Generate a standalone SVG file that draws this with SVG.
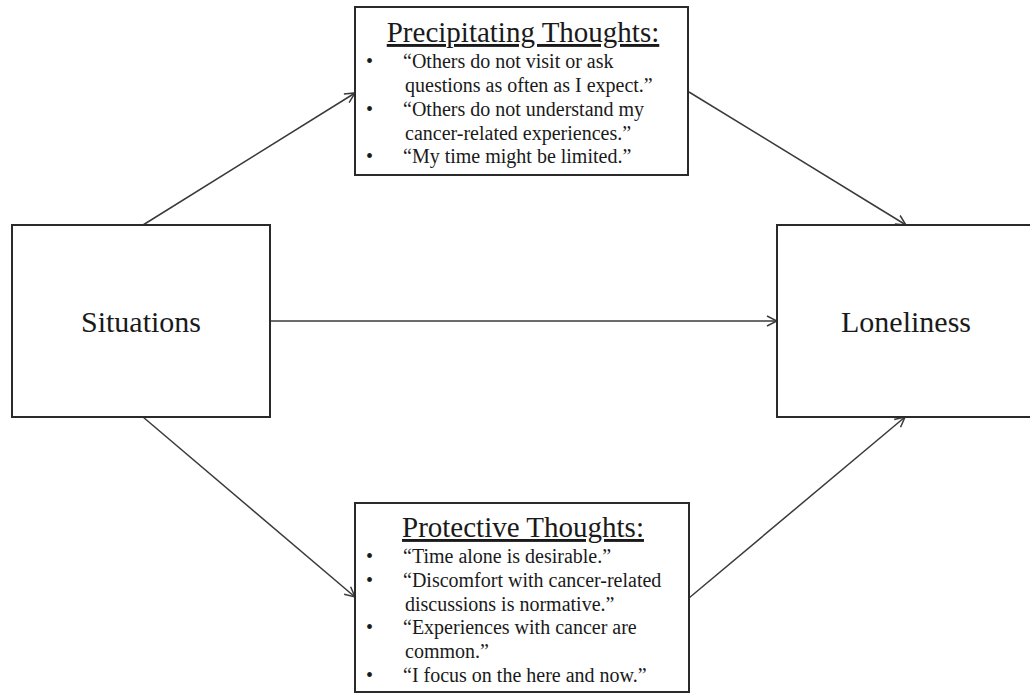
<svg xmlns="http://www.w3.org/2000/svg" width="1030" height="694" viewBox="0 0 1030 694">
<style>
.box{fill:#fff;stroke:#2a2a2a;stroke-width:2}
.big{font-family:"Liberation Serif",serif;font-size:30px;fill:#1a1a1a}
.title{font-family:"Liberation Serif",serif;font-size:29px;fill:#1a1a1a;text-decoration:underline}
.item{font-family:"Liberation Serif",serif;font-size:20px;fill:#1a1a1a}
.conn line{stroke:#3a3a3a;stroke-width:1.5;fill:none;marker-end:url(#arr)}
</style>
<defs>
<marker id="arr" viewBox="0 0 12 12" refX="11" refY="6" markerWidth="12" markerHeight="12" markerUnits="userSpaceOnUse" orient="auto">
<path d="M1,1 L11,6 L1,11" fill="none" stroke="#3a3a3a" stroke-width="1.5"/>
</marker>
</defs>
<rect width="1030" height="694" fill="#fff"/>
<g class="conn" id="connectors">
<line x1="143" y1="225" x2="355" y2="93"/>
<line x1="689" y1="92" x2="906" y2="225"/>
<line x1="270" y1="321" x2="777" y2="321"/>
<line x1="143" y1="417" x2="355" y2="597"/>
<line x1="689" y1="598" x2="905" y2="417"/>
</g>
<g id="situations">
<rect class="box" x="12" y="225" width="258" height="192"/>
<text class="big" x="141" y="332" text-anchor="middle">Situations</text>
</g>
<g id="loneliness">
<rect class="box" x="777" y="225" width="263" height="192"/>
<text class="big" x="906" y="332" text-anchor="middle">Loneliness</text>
</g>
<g id="precipitating">
<rect class="box" x="355" y="7" width="333" height="168"/>
<text class="title" x="523" y="42" text-anchor="middle">Precipitating Thoughts:</text>
<g class="item">
<text x="366" y="68">•</text><text x="403" y="68">“Others do not visit or ask</text>
<text x="405" y="92">questions as often as I expect.”</text>
<text x="366" y="116">•</text><text x="403" y="116">“Others do not understand my</text>
<text x="405" y="140">cancer-related experiences.”</text>
<text x="366" y="163">•</text><text x="403" y="163">“My time might be limited.”</text>
</g>
</g>
<g id="protective">
<rect class="box" x="355" y="503" width="334" height="189"/>
<text class="title" x="523" y="537" text-anchor="middle">Protective Thoughts:</text>
<g class="item">
<text x="366" y="563">•</text><text x="403" y="563">“Time alone is desirable.”</text>
<text x="366" y="587">•</text><text x="403" y="587">“Discomfort with cancer-related</text>
<text x="405" y="611">discussions is normative.”</text>
<text x="366" y="634">•</text><text x="403" y="634">“Experiences with cancer are</text>
<text x="405" y="658">common.”</text>
<text x="366" y="682">•</text><text x="403" y="682">“I focus on the here and now.”</text>
</g>
</g>
</svg>
